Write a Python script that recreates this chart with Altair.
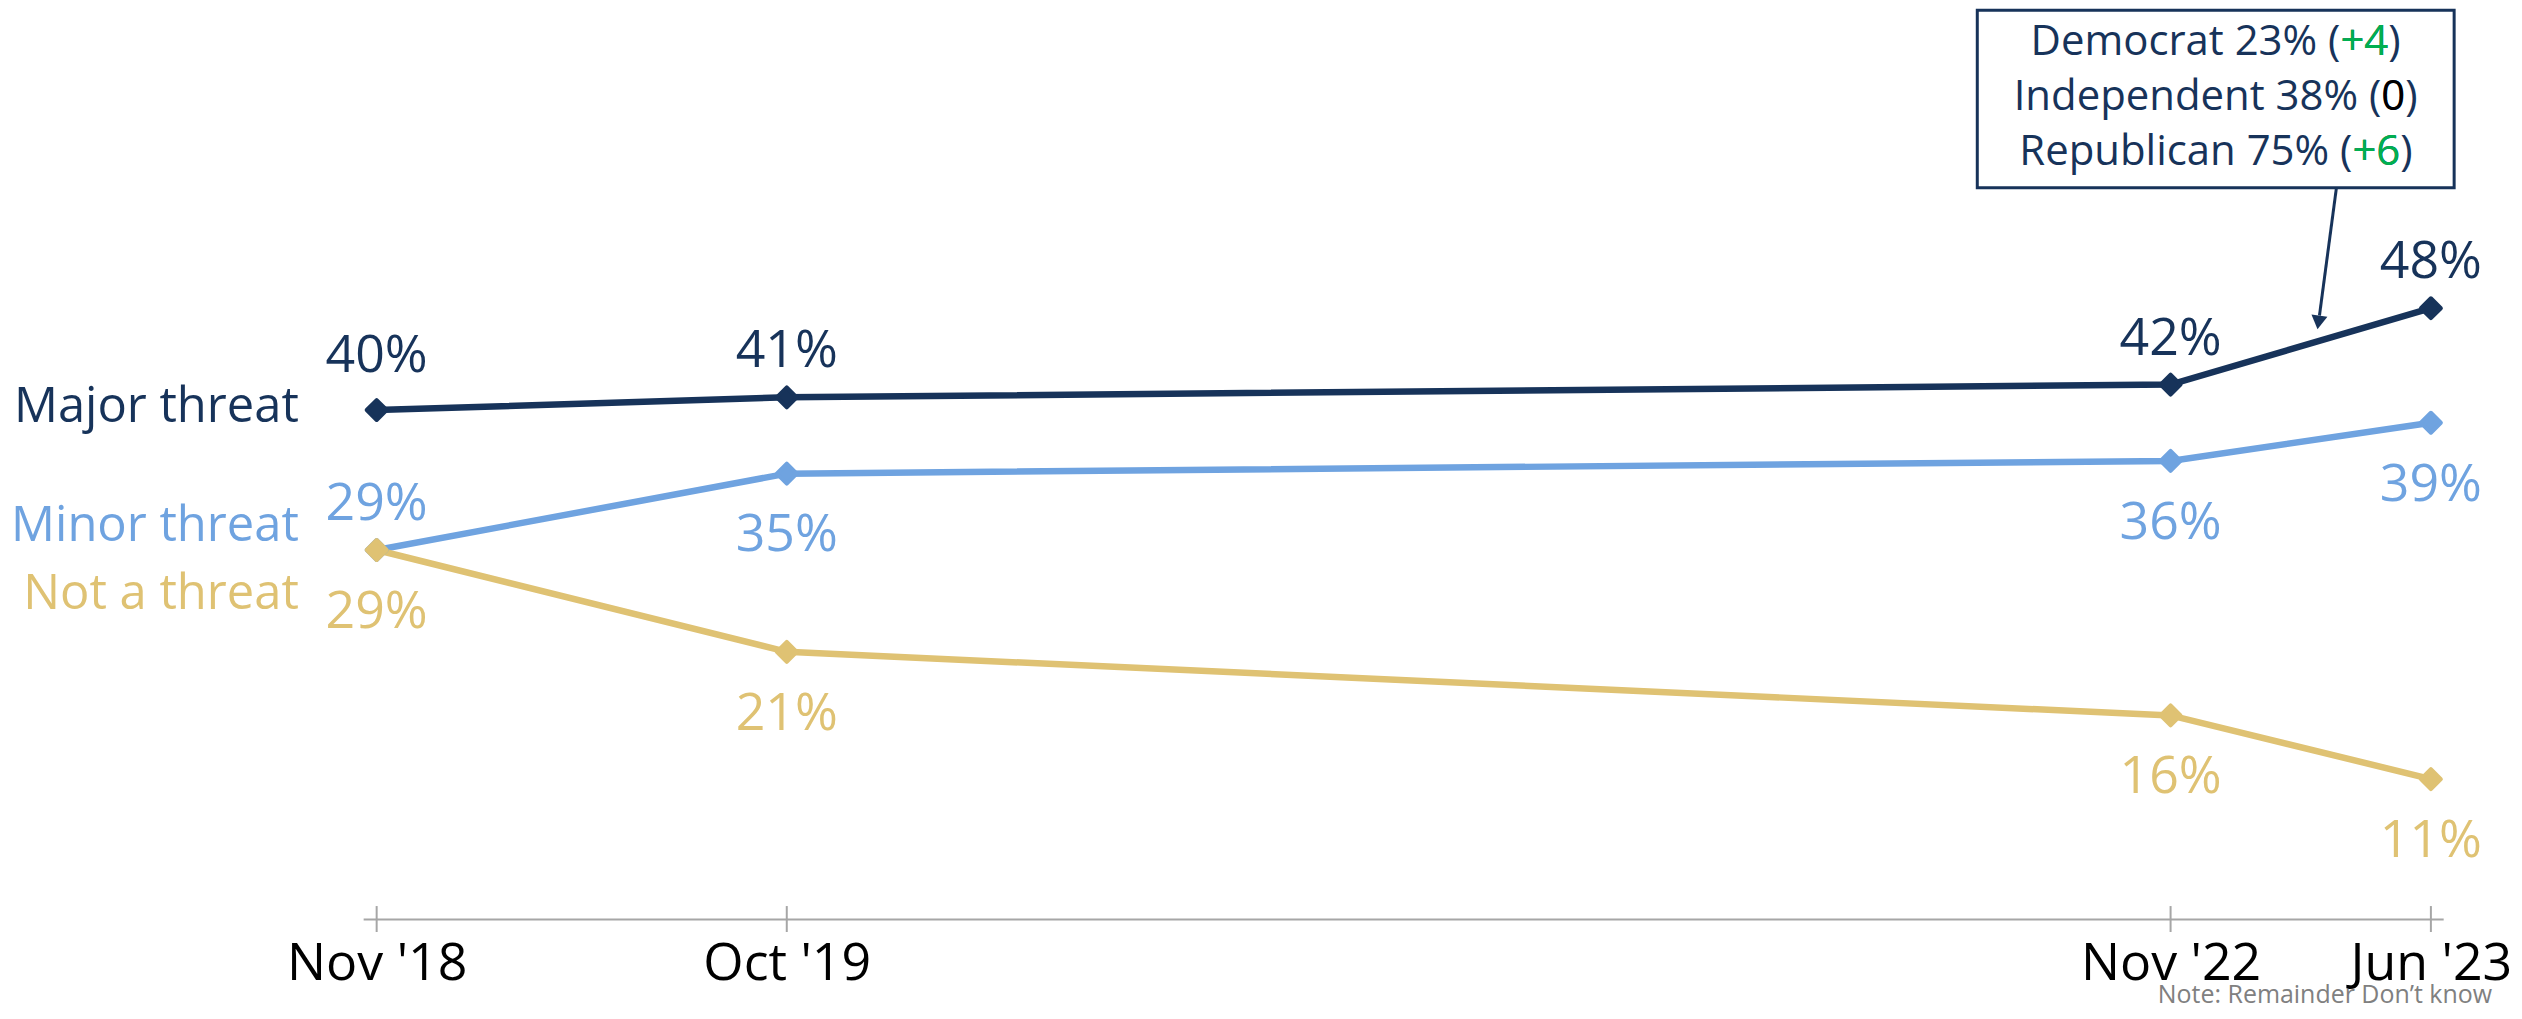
import altair as alt
import pandas as pd

# ---------------- data ----------------
dates = ["2018/11/01", "2019/10/01", "2022/11/01", "2023/06/01"]
series_names = ["Major threat", "Minor threat", "Not a threat"]
major = [40, 41, 42, 48]
minor = [29, 35, 36, 39]
not_threat = [29, 21, 16, 11]
label_side = {
    "Major threat": ["above", "above", "above", "above"],
    "Minor threat": ["above", "below", "below", "below"],
    "Not a threat": ["below", "below", "below", "below"],
}
colors = ["#17335a", "#6fa3e0", "#dfc273"]

parties = ["Democrat", "Independent", "Republican"]
party_values = [23, 38, 75]
party_changes = ["+4", "0", "+6"]
change_colors = ["#00b050", "#000000", "#00b050"]
note_text = "Note: Remainder Don\u2019t know"

# ---------------- layout ----------------
W, H = 2085, 912
PAD_L = 356
FONT = "Open Sans"
NAVY = colors[0]
AXIS_GREY = "#a6a6a6"

rows = []
for name, vals in zip(series_names, [major, minor, not_threat]):
    for i, (d, v, side) in enumerate(zip(dates, vals, label_side[name])):
        rows.append({"date": d, "idx": i, "series": name, "value": v, "label": f"{v}%", "side": side})
df = pd.DataFrame(rows)
dates_df = pd.DataFrame({"date": dates})

x_enc = alt.X(
    "date:T",
    scale=alt.Scale(domain=[alt.DateTime(year=2018, month=10, date=21),
                            alt.DateTime(year=2023, month=6, date=11)]),
    axis=alt.Axis(
        values=[alt.DateTime(year=2018, month=11, date=1), alt.DateTime(year=2019, month=10, date=1),
                alt.DateTime(year=2022, month=11, date=1), alt.DateTime(year=2023, month=6, date=1)],
        format="%b '%y", title=None, grid=False, ticks=False,
        domainColor=AXIS_GREY, domainWidth=2,
        labelFont=FONT, labelFontSize=52, labelColor="black", labelPadding=20,
        labelFlush=False, labelOverlap=False, labelLimit=0,
    ),
)
y_enc = alt.Y("value:Q", scale=alt.Scale(domain=[0, 71.5], nice=False, zero=True), axis=None)
color_scale = alt.Scale(domain=series_names, range=colors)
color_enc = alt.Color("series:N", scale=color_scale, legend=None)

base = alt.Chart(df)

ticks = alt.Chart(dates_df).mark_rule(color=AXIS_GREY, strokeWidth=2).encode(
    x=x_enc, y=alt.value(H - 13), y2=alt.value(H + 13)
)

lines = base.mark_line(strokeWidth=6.5).encode(x=x_enc, y=y_enc, color=color_enc, detail="series:N")

points = base.mark_point(shape="diamond", filled=True, size=400, strokeWidth=4,
                         strokeJoin="round", opacity=1).encode(
    x=x_enc, y=y_enc, color=color_enc,
    stroke=alt.Stroke("series:N", scale=color_scale, legend=None),
)

labels_above_first = base.transform_filter(
    (alt.datum.side == "above") & (alt.datum.series == "Major threat") & (alt.datum.idx == 0)
).mark_text(font=FONT, fontSize=52, baseline="alphabetic", align="center", dy=-38).encode(
    x=x_enc, y=y_enc, text="label:N", color=color_enc)

labels_above = base.transform_filter(
    (alt.datum.side == "above") & ((alt.datum.series != "Major threat") | (alt.datum.idx != 0))
).mark_text(font=FONT, fontSize=52, baseline="alphabetic", align="center", dy=-30).encode(
    x=x_enc, y=y_enc, text="label:N", color=color_enc)

labels_below = base.transform_filter(alt.datum.side == "below").mark_text(
    font=FONT, fontSize=52, baseline="alphabetic", align="center", dy=78
).encode(x=x_enc, y=y_enc, text="label:N", color=color_enc)

# series names at the left of the first points
name_offsets = {"Major threat": -3, "Minor threat": -24, "Not a threat": 44}
name_layers = []
for name in series_names:
    name_layers.append(
        base.transform_filter((alt.datum.series == name) & (alt.datum.idx == 0)).mark_text(
            font=FONT, fontSize=49, baseline="middle", align="right", dx=-78, dy=name_offsets[name]
        ).encode(x=x_enc, y=y_enc, text="series:N", color=color_enc)
    )

# annotation box (pixel positions relative to the plot origin)
one = pd.DataFrame({"k": [0]})
box = alt.Chart(one).mark_rect(fill="white", stroke=NAVY, strokeWidth=3).encode(
    x=alt.value(1974 - PAD_L), x2=alt.value(2452 - PAD_L), y=alt.value(1), y2=alt.value(179)
)
arrow = alt.Chart(one).mark_rule(color=NAVY, strokeWidth=3).encode(
    x=alt.value(2334 - PAD_L), y=alt.value(179), x2=alt.value(2317 - PAD_L), y2=alt.value(307)
)
arrow_head = alt.Chart(one).mark_point(shape="triangle-down", filled=True, size=260,
                                       angle=8, color=NAVY, opacity=1).encode(
    x=alt.value(2316 - PAD_L), y=alt.value(314)
)

box_layers = []
line_y = [33, 88, 143]
pivots = [2338, 2379, 2350]
for party, val, chg, ccol, yy, px in zip(parties, party_values, party_changes, change_colors, line_y, pivots):
    px = px - PAD_L
    box_layers.append(alt.Chart(one).mark_text(font=FONT, fontSize=42, baseline="middle", align="right",
                                               color=NAVY).encode(
        x=alt.value(px), y=alt.value(yy), text=alt.value(f"{party} {val}% (")))
    box_layers.append(alt.Chart(one).mark_text(font=FONT, fontSize=42, baseline="middle", align="left",
                                               color=NAVY).encode(
        x=alt.value(px), y=alt.value(yy), text=alt.value(f"{chg})")))
    box_layers.append(alt.Chart(one).mark_text(font=FONT, fontSize=42, baseline="middle", align="left",
                                               color=ccol).encode(
        x=alt.value(px), y=alt.value(yy), text=alt.value(chg)))

note = alt.Chart(one).mark_text(font=FONT, fontSize=25, baseline="alphabetic", align="right",
                                color="#808080").encode(
    x=alt.value(2490 - PAD_L), y=alt.value(H + 84), text=alt.value(note_text))

chart = alt.layer(
    ticks, lines, points, labels_above_first, labels_above, labels_below, *name_layers,
    box, arrow, arrow_head, *box_layers, note
).properties(
    width=W, height=H,
    padding={"left": PAD_L, "top": 0, "right": 71, "bottom": 91},
    autosize=alt.AutoSizeParams(type="none"),
).configure_view(stroke=None)

chart.save("out.html", embed_options={"renderer": "svg", "actions": False})
